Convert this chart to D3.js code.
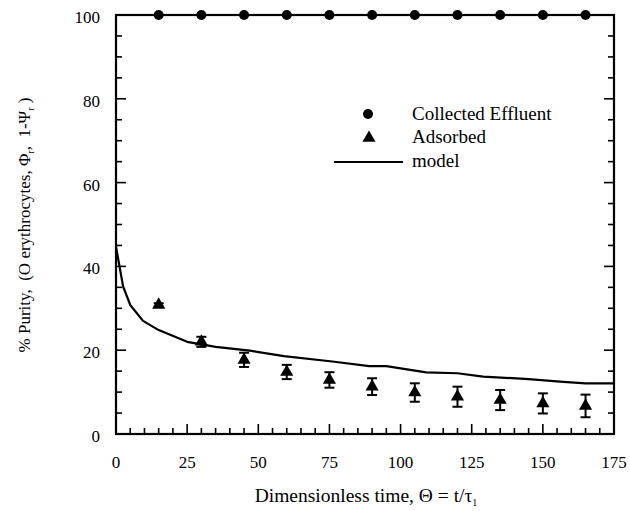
<!DOCTYPE html>
<html>
<head>
<meta charset="utf-8">
<script src="https://cdn.jsdelivr.net/npm/d3@7/dist/d3.min.js"></script>
<style>
  html, body { margin: 0; padding: 0; background: #fff; }
  svg { display: block; }
</style>
</head>
<body>
<svg id="chart" width="630" height="511"></svg>
<script>
// Dimensionless time at which samples were taken
const theta = [15, 30, 45, 60, 75, 90, 105, 120, 135, 150, 165];
// Collected effluent purity (%)
const collected = [100, 100, 100, 100, 100, 100, 100, 100, 100, 100, 100];
// Adsorbed purity (%) and its error
const adsorbed = [30.8, 22.0, 17.7, 14.8, 12.9, 11.3, 9.9, 8.9, 8.1, 7.3, 6.7];
const adsorbedErr = [0.4, 1.2, 1.7, 1.7, 1.85, 2.0, 2.2, 2.4, 2.4, 2.4, 2.7];
// Model curve
const modelTheta = [0, 2.5, 5, 9.5, 15, 25, 35, 47, 59, 76, 89, 95, 109, 120, 129, 145, 156, 165, 175];
const modelPurity = [44.7, 35.2, 30.8, 27.0, 24.8, 22.0, 20.8, 19.9, 18.6, 17.3, 16.2, 16.2, 14.7, 14.5, 13.7, 13.1, 12.5, 12.1, 12.1];
// Axis tick labels
const xTicks = [0, 25, 50, 75, 100, 125, 150, 175];
const yTicks = [0, 20, 40, 60, 80, 100];

const SERIF = '"Liberation Serif"';
const svg = d3.select("#chart");
const L = 116, R = 614, T = 15, B = 434;
const x = d3.scaleLinear().domain([0, 175]).range([L, R]);
const y = d3.scaleLinear().domain([0, 100]).range([B, T]);

const major = 10, minor = 6;

// Minor ticks (every 5 units), pointing inward
const xMinor = d3.range(5, 175, 5).filter(v => v % 25 !== 0);
const yMinor = d3.range(5, 100, 5).filter(v => v % 20 !== 0);

const ticks = svg.append("g").attr("stroke", "#000").attr("stroke-width", 1.6);
// bottom axis ticks
xTicks.forEach(v => ticks.append("line")
  .attr("x1", x(v)).attr("x2", x(v)).attr("y1", B).attr("y2", B - major));
xMinor.forEach(v => ticks.append("line")
  .attr("x1", x(v)).attr("x2", x(v)).attr("y1", B).attr("y2", B - minor));
// left and right axis ticks
yTicks.forEach(v => {
  ticks.append("line").attr("x1", L).attr("x2", L + major).attr("y1", y(v)).attr("y2", y(v));
  ticks.append("line").attr("x1", R).attr("x2", R - major).attr("y1", y(v)).attr("y2", y(v));
});
yMinor.forEach(v => {
  ticks.append("line").attr("x1", L).attr("x2", L + minor).attr("y1", y(v)).attr("y2", y(v));
  ticks.append("line").attr("x1", R).attr("x2", R - minor).attr("y1", y(v)).attr("y2", y(v));
});

// Frame
svg.append("rect")
  .attr("x", L).attr("y", T).attr("width", R - L).attr("height", B - T)
  .attr("fill", "none").attr("stroke", "#000").attr("stroke-width", 2.2);

// Tick labels
svg.append("g").selectAll("text").data(xTicks).join("text")
  .attr("x", d => x(d)).attr("y", 468)
  .attr("text-anchor", "middle").attr("font-size", 17)
  .style("font-family", SERIF)
  .text(d => d);
svg.append("g").selectAll("text").data(yTicks).join("text")
  .attr("x", 100).attr("y", d => y(d) + 8)
  .attr("text-anchor", "end").attr("font-size", 17)
  .style("font-family", SERIF)
  .text(d => d);

// Model line
const line = d3.line().x((d, i) => x(modelTheta[i])).y(d => y(d));
svg.append("path").datum(modelPurity)
  .attr("d", line).attr("fill", "none")
  .attr("stroke", "#000").attr("stroke-width", 2.2).attr("stroke-linejoin", "round");

// Adsorbed error bars
const eb = svg.append("g").attr("stroke", "#000").attr("stroke-width", 2);
theta.forEach((t, i) => {
  const lo = y(adsorbed[i] - adsorbedErr[i]), hi = y(adsorbed[i] + adsorbedErr[i]);
  eb.append("line").attr("x1", x(t)).attr("x2", x(t)).attr("y1", lo).attr("y2", hi);
  eb.append("line").attr("x1", x(t) - 5).attr("x2", x(t) + 5).attr("y1", lo).attr("y2", lo);
  eb.append("line").attr("x1", x(t) - 5).attr("x2", x(t) + 5).attr("y1", hi).attr("y2", hi);
});

// Adsorbed triangles
const tri = d3.symbol().type(d3.symbolTriangle).size(75);
svg.append("g").selectAll("path").data(adsorbed).join("path")
  .attr("d", tri)
  .attr("transform", (d, i) => `translate(${x(theta[i])},${y(d)})`)
  .attr("fill", "#000");

// Collected effluent circles
svg.append("g").selectAll("circle").data(collected).join("circle")
  .attr("cx", (d, i) => x(theta[i])).attr("cy", d => y(d))
  .attr("r", 5).attr("fill", "#000");

// Legend
const lg = svg.append("g").attr("font-size", 19).style("font-family", SERIF);
lg.append("circle").attr("cx", 368).attr("cy", 114).attr("r", 5).attr("fill", "#000");
lg.append("text").attr("x", 412).attr("y", 120).text("Collected Effluent");
lg.append("path").attr("d", tri).attr("transform", "translate(369,138)").attr("fill", "#000");
lg.append("text").attr("x", 412).attr("y", 143).text("Adsorbed");
lg.append("line").attr("x1", 334).attr("x2", 403).attr("y1", 162).attr("y2", 162)
  .attr("stroke", "#000").attr("stroke-width", 2);
lg.append("text").attr("x", 412).attr("y", 167).text("model");

// X axis title
const xt = svg.append("text").attr("x", 366).attr("y", 502)
  .attr("text-anchor", "middle").attr("font-size", 19.5).style("font-family", SERIF);
xt.append("tspan").text("Dimensionless time, \u0398 = t/\u03C4");
xt.append("tspan").attr("font-size", 10).attr("dy", 4).text("1");

// Y axis title
const yt = svg.append("text")
  .attr("transform", "translate(30,225) rotate(-90)")
  .attr("text-anchor", "middle").attr("font-size", 17).style("font-family", SERIF);
yt.append("tspan").text("% Purity,\u00A0\u00A0(O erythrocytes, \u03A6");
yt.append("tspan").attr("font-size", 10).attr("dy", 4).text("r");
yt.append("tspan").attr("dy", -4).text(",\u00A0\u00A01-\u03A8");
yt.append("tspan").attr("font-size", 10).attr("dy", 4).text("r");
yt.append("tspan").attr("dy", -4).text(" )");
</script>
</body>
</html>
